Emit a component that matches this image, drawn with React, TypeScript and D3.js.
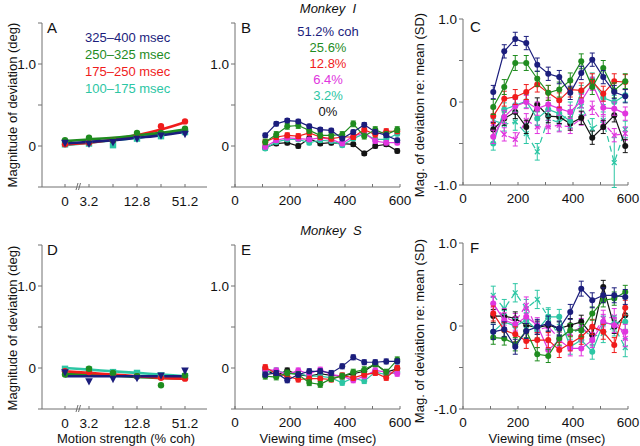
import React from "react";
import * as d3 from "d3";

// ---------- data ----------
const cohLevels = ["0", "3.2", "6.4", "12.8", "25.6", "51.2"];
const cohTickLabels = ["0", "3.2", "", "12.8", "", "51.2"];
const times = [110, 150, 190, 230, 270, 310, 350, 390, 430, 470, 510, 550, 590];
const timeTicks = [0, 100, 200, 300, 400, 500, 600];
const timeTickLabels = ["0", "", "200", "", "400", "", "600"];
const degTicks = [-0.5, 0, 0.5, 1.0, 1.5];
const degTickLabels = ["", "0", "", "1.0", ""];
const sdTicks = [-1, -0.5, 0, 0.5, 1];
const sdTickLabels = ["-1.0", "", "0", "", "1.0"];

const windowLabels = ["325–400 msec", "250–325 msec", "175–250 msec", "100–175 msec"];
const cohLegend = ["51.2% coh", "25.6%", "12.8%", "6.4%", "3.2%", "0%"];

// Panel A (Monkey I, deg) : points and fitted curves, per viewing window
const aNavy = [0.04, 0.03, 0.05, 0.09, 0.13, 0.15];
const aGreen = [0.07, 0.10, 0.07, 0.16, 0.16, 0.21];
const aRed = [0.02, 0.04, 0.07, 0.13, 0.24, 0.30];
const aCyan = [0.02, 0.03, 0.01, 0.09, 0.12, 0.17];
const aNavyFit = [0.03, 0.05, 0.07, 0.10, 0.13, 0.17];
const aGreenFit = [0.06, 0.08, 0.10, 0.13, 0.16, 0.20];
const aRedFit = [0.02, 0.04, 0.08, 0.13, 0.20, 0.29];
const aCyanFit = [0.01, 0.04, 0.07, 0.10, 0.14, 0.18];

// Panel D (Monkey S, deg)
const dNavy = [-0.05, -0.16, -0.13, -0.12, -0.09, -0.03];
const dGreen = [-0.08, -0.01, -0.06, -0.10, -0.21, -0.09];
const dRed = [-0.04, -0.05, -0.07, -0.10, -0.12, -0.13];
const dCyan = [-0.01, -0.02, -0.05, -0.06, -0.09, -0.10];
const dNavyFit = [-0.10, -0.10, -0.10, -0.10, -0.10, -0.10];
const dGreenFit = [-0.07, -0.08, -0.09, -0.11, -0.12, -0.13];
const dRedFit = [-0.04, -0.06, -0.08, -0.10, -0.12, -0.13];
const dCyanFit = [0.0, -0.02, -0.04, -0.06, -0.08, -0.10];

// Panel B (Monkey I, deg vs time)
const bNavy = [0.13, 0.27, 0.31, 0.30, 0.24, 0.20, 0.19, 0.09, 0.17, 0.26, 0.17, 0.13, 0.07];
const bGreen = [0.05, 0.14, 0.24, 0.25, 0.19, 0.13, 0.13, 0.14, 0.27, 0.12, 0.20, 0.14, 0.20];
const bRed = [0.05, 0.11, 0.13, 0.12, 0.16, 0.11, 0.09, 0.11, 0.11, 0.20, 0.14, 0.18, 0.18];
const bMag = [-0.01, 0.07, 0.10, 0.09, 0.08, 0.10, 0.08, 0.03, 0.12, 0.16, 0.06, 0.04, 0.04];
const bCyan = [-0.03, 0.05, 0.08, 0.08, 0.04, 0.07, 0.06, 0.01, 0.09, 0.15, 0.08, 0.08, 0.15];
const bBlack = [-0.02, 0.03, 0.04, 0.0, 0.09, 0.03, 0.04, 0.03, 0.02, -0.09, 0.0, 0.02, -0.06];

// Panel C (Monkey I, SD vs time)
const cNavy = [0.12, 0.61, 0.76, 0.71, 0.45, 0.34, 0.30, 0.11, 0.35, 0.51, 0.30, 0.12, 0.07];
const cGreen = [-0.06, 0.18, 0.47, 0.47, 0.28, 0.11, 0.15, 0.26, 0.49, 0.18, 0.41, 0.14, 0.25];
const cRed = [-0.17, 0.04, 0.06, 0.12, 0.21, 0.11, 0.02, 0.15, 0.14, 0.25, 0.10, 0.25, 0.24];
const cMag = [-0.42, -0.18, -0.05, 0.0, -0.08, -0.03, -0.08, -0.12, 0.01, 0.22, -0.07, -0.08, -0.14];
const cCyan = [-0.50, -0.09, -0.04, 0.01, -0.20, -0.09, -0.14, -0.23, 0.12, 0.27, 0.05, 0.0, 0.08];
const cBlack = [-0.33, -0.20, -0.12, -0.30, -0.03, -0.17, -0.18, -0.26, -0.19, -0.43, -0.30, -0.16, -0.53];
const cCyanDash = [-0.22, -0.27, -0.24, -0.38, -0.60, -0.20, -0.25, -0.12, -0.05, -0.32, -0.22, -0.73, -0.33];
const cMagDash = [-0.26, -0.39, -0.45, -0.22, -0.30, -0.30, -0.28, -0.30, -0.20, -0.07, -0.25, -0.40, -0.38];
const cCyanDashErr = [0.08, 0.08, 0.1, 0.12, 0.1, 0.1, 0.1, 0.12, 0.1, 0.12, 0.1, 0.3, 0.1];

// Panel E (Monkey S, deg vs time)
const eNavy = [-0.08, -0.06, -0.15, -0.08, -0.04, -0.04, -0.06, 0.02, 0.13, 0.07, 0.07, 0.08, 0.08];
const eGreen = [-0.10, -0.11, -0.06, -0.08, -0.18, -0.20, -0.13, -0.10, -0.05, -0.02, 0.05, -0.05, 0.10];
const eRed = [0.01, -0.07, -0.10, -0.14, -0.13, -0.13, -0.14, -0.09, -0.12, -0.08, -0.06, -0.12, 0.0];
const eMag = [-0.02, -0.03, -0.08, -0.03, -0.07, -0.02, -0.08, -0.10, -0.15, -0.10, -0.03, -0.05, -0.07];
const eCyan = [-0.05, -0.03, -0.07, -0.07, -0.10, -0.10, -0.12, -0.18, -0.12, -0.16, -0.05, -0.08, -0.05];
const eBlack = [-0.02, -0.09, -0.03, -0.08, -0.10, -0.07, -0.09, -0.10, -0.07, -0.04, 0.05, -0.05, -0.01];

// Panel F (Monkey S, SD vs time)
const fNavy = [-0.07, -0.04, -0.25, -0.06, -0.01, 0.03, -0.03, 0.17, 0.45, 0.31, 0.37, 0.37, 0.35];
const fGreen = [-0.14, -0.15, -0.22, -0.06, -0.34, -0.36, -0.15, -0.05, -0.05, 0.15, 0.31, 0.33, 0.41];
const fRed = [0.15, -0.05, -0.10, -0.18, -0.17, -0.17, -0.29, -0.21, -0.13, -0.01, -0.07, -0.23, 0.22];
const fMag = [0.27, 0.07, 0.02, 0.11, 0.01, -0.29, -0.17, -0.27, -0.27, -0.17, 0.05, 0.01, -0.07];
const fCyan = [-0.07, 0.05, 0.0, 0.07, -0.05, 0.11, 0.11, -0.25, -0.17, -0.31, 0.03, 0.03, 0.05];
const fBlack = [0.12, 0.12, 0.09, 0.01, -0.02, 0.01, -0.03, 0.01, 0.05, -0.11, 0.47, -0.01, 0.13];
const fCyanDash = [0.37, 0.21, 0.40, 0.21, 0.32, 0.11, -0.13, -0.09, -0.03, -0.13, -0.09, -0.01, -0.26];
const fMagDash = [0.25, 0.11, 0.05, 0.25, -0.05, -0.01, -0.15, -0.09, -0.01, -0.13, 0.09, 0.11, -0.15];

// ---------- style ----------
const NAVY = "#1b1d7c";
const GREEN = "#1f8c1f";
const RED = "#f01c1c";
const MAGENTA = "#e035de";
const CYAN = "#2cc6a4";
const BLACK = "#141414";
const AXIS = "#707070";
const FONT = "'Liberation Sans', Arial, Helvetica, sans-serif";

type Ser = { vals: number[]; err: number | number[]; color: string; dashed?: boolean; marker: "circle" | "cross" | "square" | "tri" };

function Marker({ x, y, kind, color, r }: { x: number; y: number; kind: string; color: string; r: number }) {
  if (kind === "cross") {
    return (
      <g stroke={color} strokeWidth={1.3}>
        <line x1={x - r} y1={y - r} x2={x + r} y2={y + r} />
        <line x1={x - r} y1={y + r} x2={x + r} y2={y - r} />
      </g>
    );
  }
  if (kind === "square") return <rect x={x - r} y={y - r} width={2 * r} height={2 * r} fill={color} />;
  if (kind === "tri")
    return <path d={`M${x - r * 1.2},${y - r * 0.9}L${x + r * 1.2},${y - r * 0.9}L${x},${y + r * 1.4}Z`} fill={color} />;
  return <circle cx={x} cy={y} r={r} fill={color} />;
}

function YAxis({ x, y, ticks, labels }: { x: number; y: d3.ScaleLinear<number, number>; ticks: number[]; labels: string[] }) {
  const [r0, r1] = y.range();
  return (
    <g>
      <line x1={x} x2={x} y1={r1} y2={r0} stroke={AXIS} strokeWidth={1} />
      {ticks.map((t, i) => (
        <g key={i}>
          <line x1={x - 4} x2={x} y1={y(t)} y2={y(t)} stroke={AXIS} strokeWidth={1} />
          {labels[i] && (
            <text x={x - 6} y={y(t) + 5} textAnchor="end" fontSize={13.5} fontFamily={FONT} fill="#111">
              {labels[i]}
            </text>
          )}
        </g>
      ))}
    </g>
  );
}

function TimePanel({ x0, x1, y, series, ticks, tickLabels, letter, letterX, letterY }: any) {
  const xs = d3.scaleLinear().domain([0, 600]).range([x0, x1]);
  const yBase = y.range()[0];
  const line = d3
    .line<number>()
    .x((_, i) => xs(times[i]))
    .y((v) => y(v));
  return (
    <g>
      <YAxis x={x0} y={y} ticks={ticks} labels={tickLabels} />
      <line x1={x0} x2={x1} y1={yBase} y2={yBase} stroke={AXIS} strokeWidth={1} />
      {timeTicks.map((t, i) => (
        <g key={i}>
          <line x1={xs(t)} x2={xs(t)} y1={yBase} y2={yBase - 3} stroke={AXIS} />
          {timeTickLabels[i] && (
            <text x={xs(t)} y={yBase + 18} textAnchor="middle" fontSize={13.5} fontFamily={FONT} fill="#111">
              {timeTickLabels[i]}
            </text>
          )}
        </g>
      ))}
      {series.map((s: Ser, si: number) => (
        <g key={si}>
          <path d={line(s.vals) || ""} fill="none" stroke={s.color} strokeWidth={1.2} strokeDasharray={s.dashed ? "6,4" : undefined} />
          {s.vals.map((v, i) => {
            const e = Array.isArray(s.err) ? s.err[i] : s.err;
            const cx = xs(times[i]);
            return (
              <g key={i} stroke={s.color} strokeWidth={1}>
                <line x1={cx} x2={cx} y1={y(v - e)} y2={y(v + e)} />
                <line x1={cx - 2.5} x2={cx + 2.5} y1={y(v - e)} y2={y(v - e)} />
                <line x1={cx - 2.5} x2={cx + 2.5} y1={y(v + e)} y2={y(v + e)} />
              </g>
            );
          })}
          {s.vals.map((v, i) => (
            <Marker key={"m" + i} x={xs(times[i])} y={y(v)} kind={s.marker} color={s.color} r={s.marker === "cross" ? 2.4 : 3} />
          ))}
        </g>
      ))}
      <text x={letterX} y={letterY} fontSize={15} fontFamily={FONT} fill="#111">
        {letter}
      </text>
    </g>
  );
}

function CohPanel({ y, pts, fits, letter, letterY }: any) {
  const xs = d3.scalePoint<string>().domain(cohLevels).range([65, 185]);
  const yBase = y.range()[0];
  const line = d3
    .line<number>()
    .x((_, i) => xs(cohLevels[i]) as number)
    .y((v) => y(v))
    .curve(d3.curveMonotoneX);
  return (
    <g>
      <YAxis x={42} y={y} ticks={degTicks} labels={degTickLabels} />
      <line x1={42} x2={207} y1={yBase} y2={yBase} stroke={AXIS} />
      {cohLevels.map((c, i) => (
        <g key={i}>
          <line x1={xs(c)} x2={xs(c)} y1={yBase} y2={yBase - 3} stroke={AXIS} />
          {cohTickLabels[i] && (
            <text x={xs(c)} y={yBase + 19} textAnchor="middle" fontSize={13.5} fontFamily={FONT} fill="#111">
              {cohTickLabels[i]}
            </text>
          )}
        </g>
      ))}
      <g stroke={AXIS} strokeWidth={1}>
        <line x1={76} x2={78} y1={yBase + 3} y2={yBase - 4} />
        <line x1={78.5} x2={80.5} y1={yBase + 3} y2={yBase - 4} />
      </g>
      {fits.map((f: any, i: number) => (
        <path key={"f" + i} d={line(f.vals) || ""} fill="none" stroke={f.color} strokeWidth={2.6} />
      ))}
      {pts.map((s: Ser, si: number) =>
        s.vals.map((v, i) => <Marker key={si + "-" + i} x={xs(cohLevels[i]) as number} y={y(v)} kind={s.marker} color={s.color} r={3.2} />)
      )}
      <text x={47} y={letterY} fontSize={15} fontFamily={FONT} fill="#111">
        {letter}
      </text>
    </g>
  );
}

export default function App() {
  const yA = d3.scaleLinear().domain([-0.5, 1.5]).range([187, 23]);
  const yD = d3.scaleLinear().domain([-0.5, 1.5]).range([409, 245]);
  const yC = d3.scaleLinear().domain([-1, 1]).range([185, 19]);
  const yF = d3.scaleLinear().domain([-1, 1]).range([409, 243]);

  const mk = (vals: number[], color: string, err: number | number[], marker: any = "circle", dashed = false): Ser => ({ vals, color, err, marker, dashed });

  const seriesB = [mk(bBlack, BLACK, 0.025), mk(bCyan, CYAN, 0.025), mk(bMag, MAGENTA, 0.025), mk(bRed, RED, 0.03), mk(bGreen, GREEN, 0.035), mk(bNavy, NAVY, 0.025)];
  const seriesE = [mk(eBlack, BLACK, 0.03), mk(eCyan, CYAN, 0.03), mk(eMag, MAGENTA, 0.03), mk(eRed, RED, 0.03), mk(eGreen, GREEN, 0.035), mk(eNavy, NAVY, 0.03)];
  const seriesC = [
    mk(cCyanDash, CYAN, cCyanDashErr, "cross", true),
    mk(cMagDash, MAGENTA, 0.08, "cross", true),
    mk(cBlack, BLACK, 0.08),
    mk(cCyan, CYAN, 0.08),
    mk(cMag, MAGENTA, 0.08),
    mk(cRed, RED, 0.09),
    mk(cGreen, GREEN, 0.09),
    mk(cNavy, NAVY, 0.08),
  ];
  const seriesF = [
    mk(fCyanDash, CYAN, 0.11, "cross", true),
    mk(fMagDash, MAGENTA, 0.1, "cross", true),
    mk(fBlack, BLACK, 0.08),
    mk(fCyan, CYAN, 0.09),
    mk(fMag, MAGENTA, 0.09),
    mk(fRed, RED, 0.09),
    mk(fGreen, GREEN, 0.08),
    mk(fNavy, NAVY, 0.09),
  ];

  const ptsA = [mk(aCyan, CYAN, 0, "square"), mk(aRed, RED, 0), mk(aGreen, GREEN, 0), mk(aNavy, NAVY, 0, "tri")];
  const fitsA = [{ vals: aCyanFit, color: CYAN }, { vals: aRedFit, color: RED }, { vals: aGreenFit, color: GREEN }, { vals: aNavyFit, color: NAVY }];
  const ptsD = [mk(dCyan, CYAN, 0, "square"), mk(dRed, RED, 0), mk(dGreen, GREEN, 0), mk(dNavy, NAVY, 0, "tri")];
  const fitsD = [{ vals: dCyanFit, color: CYAN }, { vals: dGreenFit, color: GREEN }, { vals: dRedFit, color: RED }, { vals: dNavyFit, color: NAVY }];

  const legendAColors = [NAVY, GREEN, RED, CYAN];
  const legendBColors = [NAVY, GREEN, RED, MAGENTA, CYAN, BLACK];

  return (
    <svg width={640} height={446} style={{ position: "absolute", left: 0, top: 0, background: "#fff" }}>
      <rect width={640} height={446} fill="#fff" />
      {/* Row 1 */}
      <CohPanel y={yA} pts={ptsA} fits={fitsA} letter="A" letterY={33} />
      {windowLabels.map((t, i) => (
        <text key={i} x={85} y={42 + 17 * i} fontSize={13} fontFamily={FONT} fill={legendAColors[i]}>
          {t}
        </text>
      ))}
      <TimePanel x0={235} x1={400} y={yA} series={seriesB} ticks={degTicks} tickLabels={degTickLabels} letter="B" letterX={241} letterY={33} />
      {cohLegend.map((t, i) => (
        <text key={i} x={328} y={36 + 16 * i} textAnchor="middle" fontSize={13} fontFamily={FONT} fill={legendBColors[i]}>
          {t}
        </text>
      ))}
      <TimePanel x0={463} x1={628} y={yC} series={seriesC} ticks={sdTicks} tickLabels={sdTickLabels} letter="C" letterX={470} letterY={32} />

      {/* Row 2 */}
      <CohPanel y={yD} pts={ptsD} fits={fitsD} letter="D" letterY={255} />
      <TimePanel x0={235} x1={400} y={yD} series={seriesE} ticks={degTicks} tickLabels={degTickLabels} letter="E" letterX={241} letterY={255} />
      <TimePanel x0={463} x1={628} y={yF} series={seriesF} ticks={sdTicks} tickLabels={sdTickLabels} letter="F" letterX={470} letterY={253} />

      {/* titles */}
      <text x={328} y={13} textAnchor="middle" fontSize={13} fontStyle="italic" fontFamily={FONT} fill="#111" style={{ whiteSpace: "pre" }}>
        {"Monkey  I"}
      </text>
      <text x={331} y={235} textAnchor="middle" fontSize={13} fontStyle="italic" fontFamily={FONT} fill="#111" style={{ whiteSpace: "pre" }}>
        {"Monkey  S"}
      </text>

      {/* axis titles */}
      <text transform="translate(17,105) rotate(-90)" textAnchor="middle" fontSize={13} fontFamily={FONT} fill="#111">
        Magnitude of deviation (deg)
      </text>
      <text transform="translate(17,328) rotate(-90)" textAnchor="middle" fontSize={13} fontFamily={FONT} fill="#111">
        Magnitude of deviation (deg)
      </text>
      <text transform="translate(424,105) rotate(-90)" textAnchor="middle" fontSize={13} fontFamily={FONT} fill="#111">
        Mag. of deviation re: mean (SD)
      </text>
      <text transform="translate(424,331) rotate(-90)" textAnchor="middle" fontSize={13} fontFamily={FONT} fill="#111">
        Mag. of deviation re: mean (SD)
      </text>
      <text x={126} y={443} textAnchor="middle" fontSize={13} fontFamily={FONT} fill="#111">
        Motion strength (% coh)
      </text>
      <text x={318} y={443} textAnchor="middle" fontSize={13} fontFamily={FONT} fill="#111">
        Viewing time (msec)
      </text>
      <text x={547} y={443} textAnchor="middle" fontSize={13} fontFamily={FONT} fill="#111">
        Viewing time (msec)
      </text>
    </svg>
  );
}
